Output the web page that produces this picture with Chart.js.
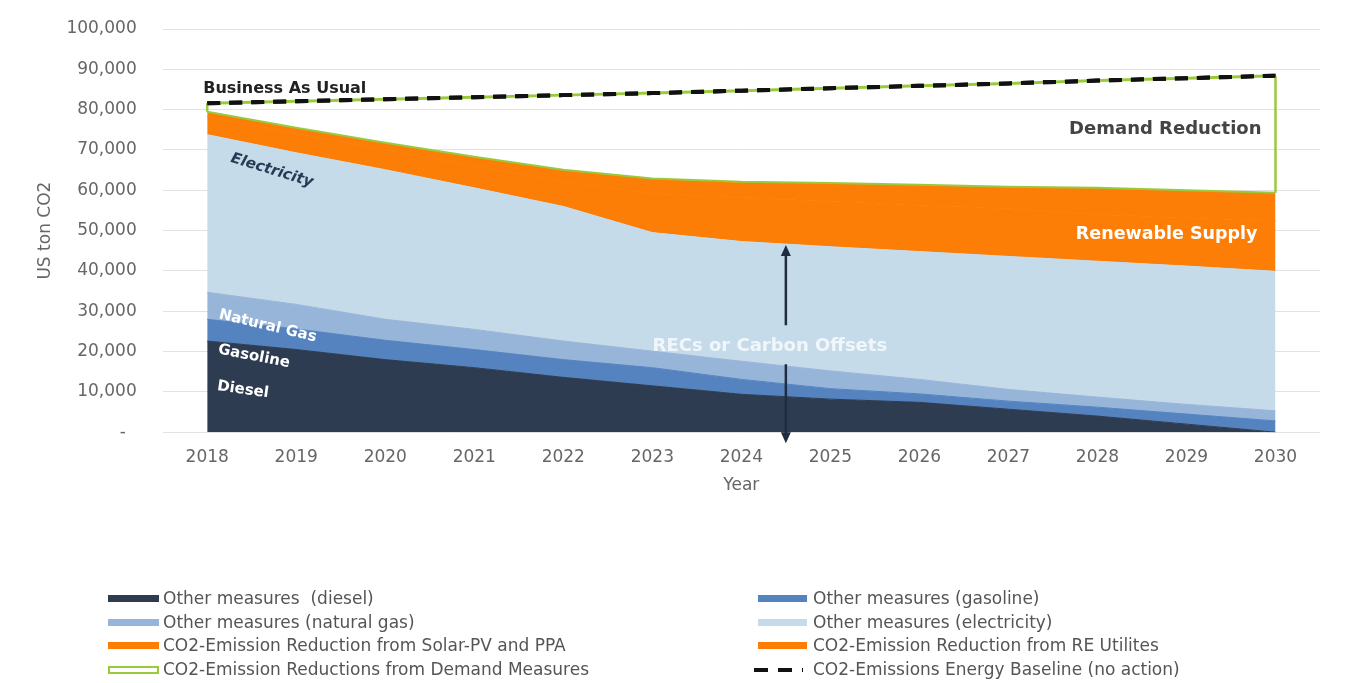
<!DOCTYPE html>
<html>
<head>
    <title>CO2 Emission Reductions</title>
    <script src="https://cdn.jsdelivr.net/npm/chart.js"></script>
    <style>
        body { margin: 0; background: #fff; font-family: "DejaVu Sans", sans-serif; }
        #wrap { position: relative; width: 1357px; height: 683px; }
        #legend { position: absolute; left: 0; top: 0; width: 1357px; height: 683px; pointer-events: none; }
        .item { position: absolute; font-size: 17px; color: #555; white-space: pre; line-height: 20px; }
        .sw { position: absolute; top: 7px; height: 7px; }
    </style>
</head>
<body>
<div id="wrap">
    <canvas id="co2Chart" width="1357" height="683"></canvas>
    <div id="legend"></div>
</div>
<script>
    // values in US ton CO2, stacked bottom to top
    var years = ['2018', '2019', '2020', '2021', '2022', '2023', '2024', '2025', '2026', '2027', '2028', '2029', '2030'];
    var diesel = [22600, 20500, 18000, 16000, 13600, 11500, 9400, 8200, 7400, 5700, 4000, 2000, 0];
    var gasoline = [5400, 5100, 4800, 4500, 4400, 4500, 3700, 2600, 2100, 2000, 2200, 2500, 2800];
    var naturalGas = [6700, 6100, 5200, 5000, 4600, 4100, 4500, 4400, 3600, 2900, 2500, 2400, 2500];
    var electricity = [39100, 37600, 37100, 35100, 33400, 29400, 29700, 30800, 31700, 33000, 33700, 34300, 34600];
    var solarPv = [4500, 4700, 4900, 5400, 6100, 9700, 10900, 11200, 11400, 11800, 11600, 12000, 12500];
    var reUtilities = [1200, 1500, 1800, 2300, 3000, 3700, 3900, 4600, 5200, 5500, 6600, 6800, 7000];
    var demandMeasures = [2100, 6600, 10800, 14800, 18500, 21200, 22600, 23500, 24500, 25600, 26600, 27800, 29000];
    var baseline = [81600, 82100, 82600, 83100, 83600, 84100, 84700, 85300, 85900, 86500, 87200, 87800, 88400];
    var yTicks = [0, 10000, 20000, 30000, 40000, 50000, 60000, 70000, 80000, 90000, 100000];

    var GREEN = '#9bc93d';
    var ORANGE = '#fc7e06';

    function area(label, data, color, fill) {
        return {
            label: label, data: data, fill: fill,
            backgroundColor: color, borderColor: color, borderWidth: 1,
            pointRadius: 0, tension: 0
        };
    }

    var datasets = [
        area('Other measures  (diesel)', diesel, '#2e3c52', 'origin'),
        area('Other measures (gasoline)', gasoline, '#5483bf', '-1'),
        area('Other measures (natural gas)', naturalGas, '#97b5d9', '-1'),
        area('Other measures (electricity)', electricity, '#c5dbea', '-1'),
        area('CO2-Emission Reduction from Solar-PV and PPA', solarPv, ORANGE, '-1'),
        area('CO2-Emission Reduction from RE Utilites', reUtilities, ORANGE, '-1'),
        {
            label: 'CO2-Emission Reductions from Demand Measures', data: demandMeasures, fill: false,
            backgroundColor: '#fff', borderColor: GREEN, borderWidth: 3, pointRadius: 0
        },
        {
            label: 'CO2-Emissions Energy Baseline (no action)', data: baseline, stack: 'baseline',
            fill: false, borderColor: '#111', borderWidth: 4, borderDash: [13, 9], pointRadius: 0, order: -1
        }
    ];
    datasets[5].borderColor = GREEN;
    datasets[5].borderWidth = 2;

    // text labels, arrow and green box edges
    var annotations = {
        id: 'annotations',
        afterDatasetsDraw: function (chart) {
            var ctx = chart.ctx, x = chart.scales.x, y = chart.scales.y, area = chart.chartArea;
            var re = chart.getDatasetMeta(5).data, dm = chart.getDatasetMeta(6).data;
            var elec = chart.getDatasetMeta(3).data, bau = chart.getDatasetMeta(7).data;
            var last = years.length - 1;

            ctx.save();
            ctx.strokeStyle = GREEN;
            ctx.lineWidth = 2.5;
            [0, last].forEach(function (i) {
                ctx.beginPath();
                ctx.moveTo(re[i].x, re[i].y);
                ctx.lineTo(dm[i].x, dm[i].y);
                ctx.stroke();
            });
            // redraw baseline dashes over the box edge
            ctx.strokeStyle = '#111';
            ctx.lineWidth = 4;
            ctx.setLineDash([13, 9]);
            ctx.beginPath();
            bau.forEach(function (p, i) { if (i) ctx.lineTo(p.x, p.y); else ctx.moveTo(p.x, p.y); });
            ctx.stroke();
            ctx.setLineDash([]);

            function label(text, px, py, font, color, align, angle) {
                ctx.save();
                ctx.translate(px, py);
                ctx.rotate((angle || 0) * Math.PI / 180);
                ctx.font = font;
                ctx.fillStyle = color;
                ctx.textAlign = align || 'left';
                ctx.textBaseline = 'middle';
                ctx.fillText(text, 0, 0);
                ctx.restore();
            }

            var x0 = x.getPixelForValue(0), xl = x.getPixelForValue(last);
            label('Business As Usual', x0 - 4, bau[0].y - 14, 'bold 16px "DejaVu Sans"', '#222');
            label('Demand Reduction', xl - 14, y.getPixelForValue(75200), 'bold 18px "DejaVu Sans"', '#444', 'right');
            label('Renewable Supply', xl - 18, y.getPixelForValue(49000), 'bold 17.5px "DejaVu Sans"', '#fff', 'right');
            label('Electricity', x0 + 24, y.getPixelForValue(68000), 'italic bold 15px "DejaVu Sans"', '#2a3a55', 'left', 17);
            label('Natural Gas', x0 + 12, y.getPixelForValue(29200), 'bold 15px "DejaVu Sans"', '#fff', 'left', 13.5);
            label('Gasoline', x0 + 11, y.getPixelForValue(20500), 'bold 15px "DejaVu Sans"', '#fff', 'left', 11);
            label('Diesel', x0 + 10, y.getPixelForValue(11400), 'bold 15px "DejaVu Sans"', '#fff', 'left', 8);

            // arrow between 2024 and 2025
            var ax = (x.getPixelForValue(6) + x.getPixelForValue(7)) / 2;
            var top = (elec[6].y + elec[7].y) / 2 + 1;
            var bottom = area.bottom + 11;
            var ty = y.getPixelForValue(21300);
            ctx.strokeStyle = '#1f2d40';
            ctx.fillStyle = '#1f2d40';
            ctx.lineWidth = 2.5;
            ctx.beginPath();
            ctx.moveTo(ax, top + 8); ctx.lineTo(ax, ty - 21);
            ctx.moveTo(ax, ty + 18); ctx.lineTo(ax, bottom - 8);
            ctx.stroke();
            ctx.beginPath();
            ctx.moveTo(ax, top); ctx.lineTo(ax - 5, top + 11); ctx.lineTo(ax + 5, top + 11); ctx.closePath();
            ctx.moveTo(ax, bottom); ctx.lineTo(ax - 5, bottom - 11); ctx.lineTo(ax + 5, bottom - 11); ctx.closePath();
            ctx.fill();
            label('RECs or Carbon Offsets', ax - 16, ty, 'bold 18px "DejaVu Sans"', 'rgba(255,255,255,0.75)', 'center');
            ctx.restore();
        }
    };

    Chart.defaults.font.family = '"DejaVu Sans", sans-serif';
    var ctx = document.getElementById('co2Chart').getContext('2d');
    var co2Chart = new Chart(ctx, {
        type: 'line',
        data: { labels: years, datasets: datasets },
        options: {
            responsive: false,
            animation: false,
            layout: { padding: { left: 35, right: 37, top: 29, bottom: 187 } },
            plugins: { legend: { display: false }, tooltip: { enabled: false } },
            scales: {
                x: {
                    offset: true,
                    grid: { display: false },
                    border: { display: false },
                    ticks: { color: '#666', font: { size: 17 }, padding: 7 },
                    title: { display: true, text: 'Year', color: '#666', font: { size: 17 }, padding: { top: 1, bottom: 0 } }
                },
                y: {
                    stacked: true,
                    min: 0,
                    max: 100000,
                    afterBuildTicks: function (axis) { axis.ticks = yTicks.map(function (v) { return { value: v }; }); },
                    ticks: {
                        color: '#666', font: { size: 17 }, padding: 3,
                        callback: function (v) { return v === 0 ? '-  ' : v.toLocaleString('en-US'); }
                    },
                    grid: { color: '#e2e2e2', drawTicks: true, tickLength: 23, tickColor: 'rgba(0,0,0,0)' },
                    border: { display: false },
                    title: { display: true, text: 'US ton CO2', color: '#666', font: { size: 17 }, padding: { top: 0, bottom: 8 } }
                }
            }
        },
        plugins: [annotations]
    });

    // two column legend under the chart
    var legend = document.getElementById('legend');
    datasets.forEach(function (ds, i) {
        var col = i % 2, row = Math.floor(i / 2);
        var item = document.createElement('div');
        item.className = 'item';
        item.style.left = (col ? 758 : 108) + 'px';
        item.style.top = (588 + row * 23.7) + 'px';
        item.style.paddingLeft = '55px';
        var sw = document.createElement('span');
        sw.className = 'sw';
        sw.style.left = '0px';
        sw.style.width = (col ? 49 : 51) + 'px';
        if (i === 6) {
            sw.style.background = '#fff';
            sw.style.border = '2px solid ' + GREEN;
            sw.style.height = '4px';
            sw.style.width = '47px';
        } else if (i === 7) {
            sw.style.background = 'repeating-linear-gradient(90deg, #111 0 14px, transparent 14px 24px)';
            sw.style.height = '4px';
            sw.style.top = '9px';
            sw.style.left = '-4px';
        } else {
            sw.style.background = ds.backgroundColor;
        }
        item.appendChild(sw);
        item.appendChild(document.createTextNode(ds.label));
        legend.appendChild(item);
    });
</script>
</body>
</html>
